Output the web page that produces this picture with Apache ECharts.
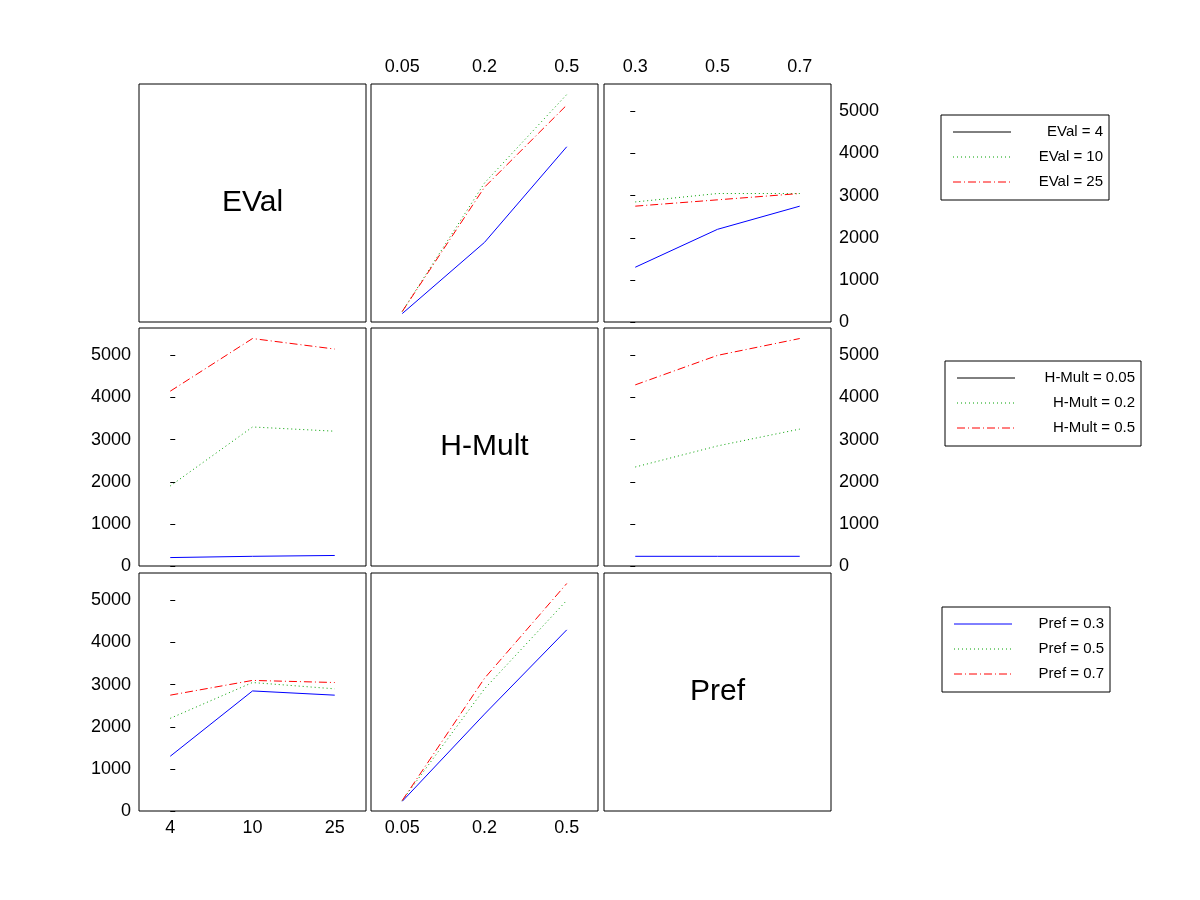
<!DOCTYPE html>
<html><head><meta charset="utf-8">
<script src="https://cdn.jsdelivr.net/npm/echarts@6/dist/echarts.min.js"></script>
<style>html,body{margin:0;background:#fff}#c{width:1200px;height:900px}</style>
</head><body><div id="c"></div>
<script>
// factor levels
const evalLevels = ['4', '10', '25'];
const hmultLevels = ['0.05', '0.2', '0.5'];
const prefLevels = ['0.3', '0.5', '0.7'];

// row 1: lines by EVal
const evalByHmult = [[200, 1890, 4160], [250, 3300, 5400], [250, 3200, 5150]];
const evalByPref = [[1300, 2200, 2750], [2850, 3050, 3050], [2750, 2900, 3050]];
// row 2: lines by H-Mult
const hmultByEval = [[200, 230, 250], [1900, 3300, 3200], [4150, 5400, 5150]];
const hmultByPref = [[230, 230, 230], [2350, 2850, 3250], [4300, 5000, 5400]];
// row 3: lines by Pref
const prefByEval = [[1300, 2850, 2750], [2200, 3050, 2900], [2750, 3100, 3050]];
const prefByHmult = [[230, 2300, 4300], [250, 2900, 5000], [250, 3150, 5400]];

const colors = ['#0000ff', '#00a000', '#ff0000'];
const dashes = ['solid', [1, 3], [8, 3, 1, 3]];
const font = 'Liberation Sans, Arial, sans-serif';

const colX = [139, 371, 604], colW = 227;
const rowY = [84, 328, 573], rowH = 238;

const grids = [], xAxes = [], yAxes = [], series = [], graphics = [];

function panel(r, c, opts) {
  const gi = grids.length;
  grids.push({left: colX[c], top: rowY[r], width: colW, height: rowH,
    show: true, borderColor: '#000', borderWidth: 1, backgroundColor: '#fff'});
  const xl = opts.xLabels;
  xAxes.push({gridIndex: gi, type: 'value', min: -0.38, max: 2.38,
    position: opts.xPos || 'bottom',
    axisLine: {show: false}, splitLine: {show: false}, axisTick: {show: false},
    axisLabel: {show: !!xl, customValues: [0, 1, 2], color: '#000', fontSize: 18, fontFamily: font,
      formatter: v => xl ? xl[Math.round(v)] : ''}});
  yAxes.push({gridIndex: gi, type: 'value', min: 0, max: 5650, interval: 1000,
    position: opts.yPos || 'left',
    axisLine: {show: false}, splitLine: {show: false},
    axisTick: {show: !!opts.yLabels, inside: true, length: 5, lineStyle: {color: '#000'}},
    axisLabel: {show: !!opts.yLabels, showMaxLabel: false, color: '#000', fontSize: 18, fontFamily: font,
      formatter: v => String(v)}});
  if (opts.title) {
    graphics.push({type: 'text', x: colX[c] + colW / 2, y: rowY[r] + rowH / 2,
      style: {text: opts.title, fontSize: 30, fontFamily: font, fill: '#000', align: 'center', verticalAlign: 'middle'}});
  }
  (opts.data || []).forEach((vals, k) => {
    series.push({name: opts.names[k], type: 'line', xAxisIndex: gi, yAxisIndex: gi,
      symbol: 'none', animation: false,
      data: vals.map((v, i) => [i, v]),
      lineStyle: {color: colors[k], width: 1, type: dashes[k]}});
  });
}

const evalNames = evalLevels.map(l => 'EVal = ' + l);
const hmultNames = hmultLevels.map(l => 'H-Mult = ' + l);
const prefNames = prefLevels.map(l => 'Pref = ' + l);

panel(0, 0, {title: 'EVal'});
panel(0, 1, {xLabels: hmultLevels, xPos: 'top', data: evalByHmult, names: evalNames});
panel(0, 2, {xLabels: prefLevels, xPos: 'top', yLabels: true, yPos: 'right', data: evalByPref, names: evalNames});
panel(1, 0, {yLabels: true, data: hmultByEval, names: hmultNames});
panel(1, 1, {title: 'H-Mult'});
panel(1, 2, {yLabels: true, yPos: 'right', data: hmultByPref, names: hmultNames});
panel(2, 0, {xLabels: evalLevels, yLabels: true, data: prefByEval, names: prefNames});
panel(2, 1, {xLabels: hmultLevels, data: prefByHmult, names: prefNames});
panel(2, 2, {title: 'Pref'});

// legend boxes drawn as graphics (icon colours differ from the plotted lines, as in the original)
function legendBox(names, x, y, w, legendColors) {
  graphics.push({type: 'rect', shape: {x: x, y: y, width: w, height: 85},
    style: {fill: '#fff', stroke: '#000', lineWidth: 1}});
  names.forEach((n, k) => {
    const ly = y + 17 + k * 25;
    graphics.push({type: 'line', shape: {x1: x + 12, y1: ly, x2: x + 70, y2: ly},
      style: {stroke: legendColors[k], lineWidth: 1, lineDash: dashes[k] === 'solid' ? null : dashes[k]}});
    graphics.push({type: 'text', x: x + w - 6, y: ly,
      style: {text: n, fontSize: 15, fontFamily: font, fill: '#000', align: 'right', verticalAlign: 'middle'}});
  });
}
legendBox(evalNames, 941, 115, 168, ['#000', '#00a000', '#ff0000']);
legendBox(hmultNames, 945, 361, 196, ['#000', '#00a000', '#ff0000']);
legendBox(prefNames, 942, 607, 168, colors);

const chart = echarts.init(document.getElementById('c'));
chart.setOption({
  backgroundColor: '#fff',
  animation: false,
  grid: grids, xAxis: xAxes, yAxis: yAxes, series: series,
  graphic: graphics
});
</script></body></html>
